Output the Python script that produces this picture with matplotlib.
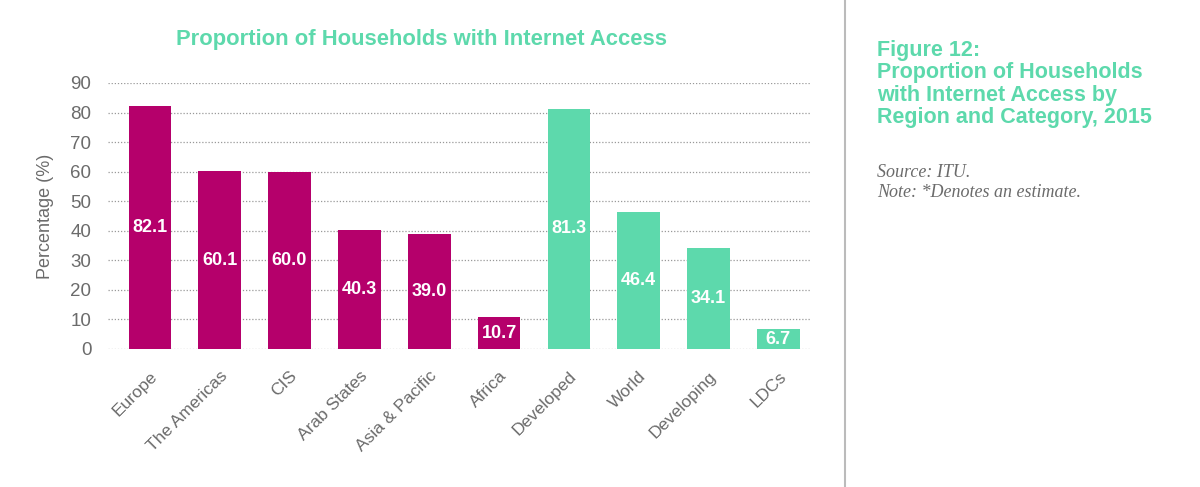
import matplotlib
matplotlib.use("Agg")
import matplotlib.pyplot as plt
from matplotlib.lines import Line2D

categories = ["Europe", "The Americas", "CIS", "Arab States", "Asia & Pacific",
              "Africa", "Developed", "World", "Developing", "LDCs"]
values = [82.1, 60.1, 60.0, 40.3, 39.0, 10.7, 81.3, 46.4, 34.1, 6.7]
groups = ["region"] * 6 + ["category"] * 4
yticks = [0, 10, 20, 30, 40, 50, 60, 70, 80, 90]

MAGENTA = "#B5006B"
GREEN = "#5DD9AC"
GRAY = "#6b6b6b"
colors = [MAGENTA if g == "region" else GREEN for g in groups]

plt.rcParams['font.family'] = ['Liberation Sans', 'DejaVu Sans']

fig = plt.figure(figsize=(12, 4.87), dpi=100)
ax = fig.add_axes([0.09, 0.2834, 0.586, 0.5462])

x = list(range(len(categories)))
for yv in yticks:
    ax.axhline(yv, color="#999999", lw=0.9, ls=(0, (1, 1.5)), zorder=0)
bars = ax.bar(x, values, width=0.61, color=colors, zorder=2)
for xi, v in zip(x, values):
    ax.text(xi, v / 2, f"{v:.1f}", ha="center", va="center", color="white",
            fontsize=13, fontweight="bold", zorder=3)

ax.set_xlim(-0.6, 9.47)
ax.set_ylim(0, 90)
ax.set_yticks(yticks)
ax.tick_params(axis='y', length=0, pad=12, labelsize=13.5, labelcolor=GRAY)
ax.set_xticks(x)
ax.set_xticklabels(categories, rotation=45, ha="right", rotation_mode="anchor",
                   fontsize=12.5, color=GRAY)
ax.tick_params(axis='x', length=0, pad=14)
for s in ax.spines.values():
    s.set_visible(False)
ax.set_ylabel("Percentage (%)", fontsize=13, color=GRAY, labelpad=12)

fig.text(421 / 1200, 1 - 40 / 487, "Proportion of Households with Internet Access",
         ha="center", va="center", color=GREEN, fontsize=15.8, fontweight="bold")

fig.add_artist(Line2D([845 / 1200, 845 / 1200], [0, 1], color="#bbbbbb", lw=1.5,
                      transform=fig.transFigure))

fig.text(877 / 1200, 1 - 40 / 487,
         "Figure 12:\nProportion of Households\nwith Internet Access by\nRegion and Category, 2015",
         ha="left", va="top", color=GREEN, fontsize=15.5, fontweight="bold",
         linespacing=1.08)
fig.text(877 / 1200, 1 - 164 / 487,
         "Source: ITU.\nNote: *Denotes an estimate.",
         ha="left", va="top", color=GRAY, fontsize=13, style="italic",
         family=["Liberation Serif", "DejaVu Serif"], linespacing=1.2)

fig.savefig("out.png", dpi=100, facecolor="white")
